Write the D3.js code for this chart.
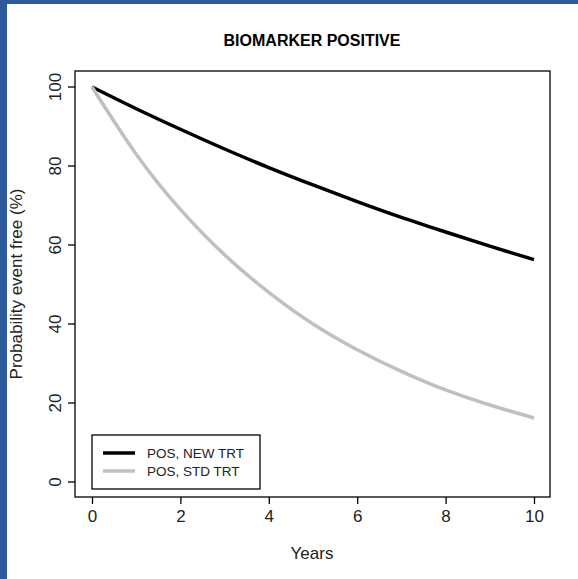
<!DOCTYPE html>
<html><head><meta charset="utf-8">
<script src="https://cdn.jsdelivr.net/npm/d3@7"></script>
<style>body{margin:0;background:#fff}</style>
</head><body>
<script>
var years = [0, 1, 2, 3, 4, 5, 6, 7, 8, 9, 10];
var newTrt = [100, 94.5, 89.3, 84.3, 79.6, 75.2, 71, 67, 63.3, 59.7, 56.3];
var stdTrt = [100, 83, 69, 57.5, 48, 40, 33.5, 28, 23.3, 19.5, 16.2];
var xTicks = [0, 2, 4, 6, 8, 10];
var yTicks = [0, 20, 40, 60, 80, 100];
var seriesNames = ["POS, NEW TRT", "POS, STD TRT"];
var seriesColors = ["#000000", "#c0c0c0"];

var svg = d3.select("body").append("svg").attr("width", 578).attr("height", 579);
svg.append("rect").attr("width", 578).attr("height", 579).attr("fill", "#2d5a9a");
svg.append("rect").attr("x", 7).attr("y", 4).attr("width", 571).attr("height", 575).attr("fill", "#fff");

var x = d3.scaleLinear().domain([0, 10]).range([92, 534]);
var y = d3.scaleLinear().domain([0, 100]).range([482, 87]);
var font = "Liberation Sans, Arial, sans-serif";

svg.append("rect").attr("x", 75).attr("y", 71).attr("width", 475).attr("height", 426)
  .attr("fill", "none").attr("stroke", "#000").attr("stroke-width", 1.3);

var xa = svg.append("g").attr("transform", "translate(0,497)")
  .call(d3.axisBottom(x).tickValues(xTicks).tickSize(7).tickPadding(6));
var ya = svg.append("g").attr("transform", "translate(75,0)")
  .call(d3.axisLeft(y).tickValues(yTicks).tickSize(7).tickPadding(6));
[xa, ya].forEach(function(a){
  a.select(".domain").remove();
  a.selectAll("line").attr("stroke-width", 1.3);
  a.selectAll("text").attr("font-family", font).attr("font-size", 17).attr("fill", "#222");
});
ya.selectAll(".tick").attr("transform", null);
ya.selectAll(".tick line").attr("y1", y).attr("y2", y);
ya.selectAll(".tick text").attr("y", y).attr("x", -20).attr("dy", "0.35em").attr("text-anchor", "middle")
  .attr("transform", function(d){ return "rotate(-90,-20," + y(d) + ")"; });

var line = d3.line().x(function(d, i){ return x(years[i]); }).y(function(d){ return y(d); }).curve(d3.curveNatural);
[newTrt, stdTrt].forEach(function(s, i){
  svg.append("path").attr("d", line(s)).attr("fill", "none")
    .attr("stroke", seriesColors[i]).attr("stroke-width", 3.5);
});

svg.append("text").attr("x", 312).attr("y", 46).attr("text-anchor", "middle")
  .attr("font-family", font).attr("font-weight", "bold").attr("font-size", 16).text("BIOMARKER POSITIVE");
svg.append("text").attr("x", 312).attr("y", 559).attr("text-anchor", "middle")
  .attr("font-family", font).attr("font-size", 17).attr("fill", "#222").text("Years");
svg.append("text").attr("transform", "translate(22,284) rotate(-90)").attr("text-anchor", "middle")
  .attr("font-family", font).attr("font-size", 17).attr("fill", "#222").text("Probability event free (%)");

var lg = svg.append("g");
lg.append("rect").attr("x", 92).attr("y", 435).attr("width", 168).attr("height", 54)
  .attr("fill", "#fff").attr("stroke", "#000").attr("stroke-width", 1.3);
seriesNames.forEach(function(n, i){
  var yy = 453 + i * 18;
  lg.append("line").attr("x1", 103).attr("x2", 135).attr("y1", yy).attr("y2", yy)
    .attr("stroke", seriesColors[i]).attr("stroke-width", 3.5);
  lg.append("text").attr("x", 147).attr("y", yy + 5).attr("font-family", font).attr("font-size", 13.5)
    .attr("fill", "#222").text(n);
});
</script>
</body></html>
